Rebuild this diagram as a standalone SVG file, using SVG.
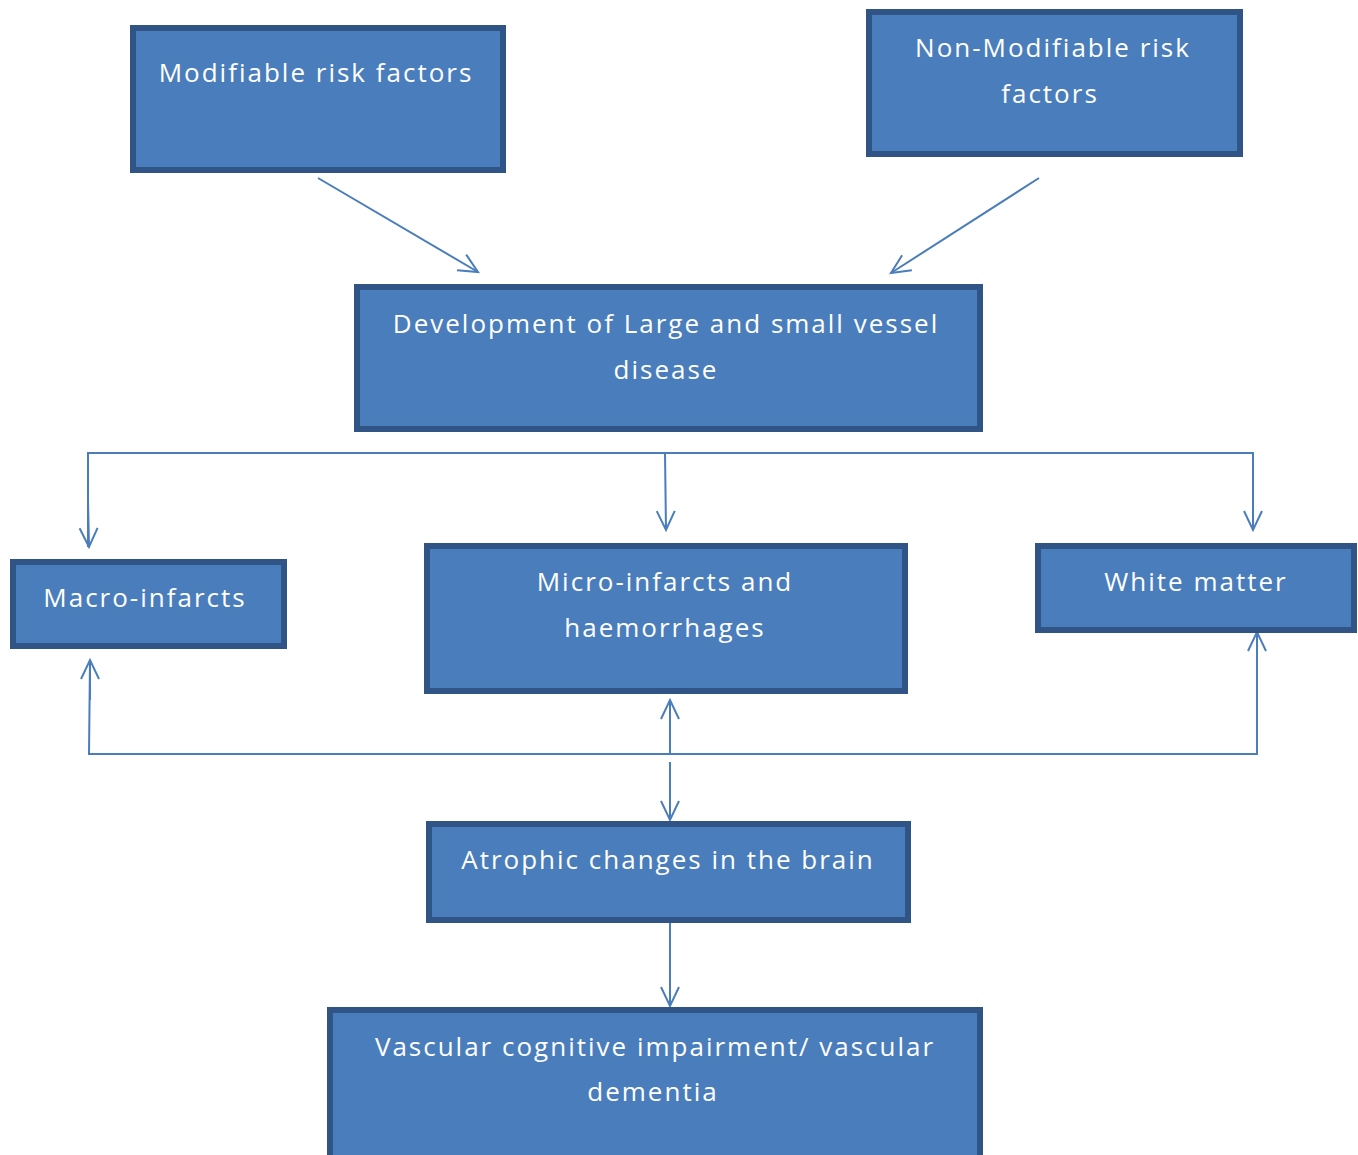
<svg xmlns="http://www.w3.org/2000/svg" width="1358" height="1155" viewBox="0 0 1358 1155">
<defs>
<style>
.box{fill:#4a7dbb;stroke:#2f5485;stroke-width:6}
.t{font-family:"Open Sans","Liberation Sans",sans-serif;font-size:26px;fill:#ffffff;text-anchor:middle;letter-spacing:2px}
.c{fill:none;stroke:#4a7dbb;stroke-width:2}
</style>
<marker id="ah" markerWidth="24" markerHeight="24" refX="20" refY="10" orient="auto" markerUnits="userSpaceOnUse" viewBox="0 0 24 20">
<path d="M1,1 L20,10 L1,19" fill="none" stroke="#4a7dbb" stroke-width="2"/>
</marker>
</defs>
<rect width="1358" height="1155" fill="#ffffff"/>
<g id="connectors">
<line class="c" x1="318" y1="178" x2="478" y2="272" marker-end="url(#ah)"/>
<line class="c" x1="1039" y1="178" x2="891" y2="273" marker-end="url(#ah)"/>
<polyline class="c" points="88,547 88,453 1253,453 1253,530"/>
<line class="c" x1="88" y1="500" x2="89" y2="547" marker-end="url(#ah)"/>
<line class="c" x1="1253" y1="500" x2="1253" y2="530" marker-end="url(#ah)"/>
<line class="c" x1="665" y1="453" x2="666" y2="530" marker-end="url(#ah)"/>
<polyline class="c" points="90,660 89,754 1257,754 1257,632"/>
<line class="c" x1="90" y1="700" x2="90" y2="660" marker-end="url(#ah)"/>
<line class="c" x1="1257" y1="680" x2="1257" y2="632" marker-end="url(#ah)"/>
<line class="c" x1="670" y1="754" x2="670" y2="700" marker-end="url(#ah)"/>
<line class="c" x1="670" y1="762" x2="670" y2="820" marker-end="url(#ah)"/>
<line class="c" x1="670" y1="922" x2="670" y2="1006" marker-end="url(#ah)"/>
</g>
<g id="n1"><rect class="box" x="133" y="28" width="370" height="142"/><text class="t" x="316" y="82">Modifiable risk factors</text></g>
<g id="n2"><rect class="box" x="869" y="12" width="371" height="142"/><text class="t" x="1053" y="57">Non-Modifiable risk</text><text class="t" x="1050" y="103">factors</text></g>
<g id="n3"><rect class="box" x="357" y="287" width="623" height="142"/><text class="t" x="666" y="333">Development of Large and small vessel</text><text class="t" x="666" y="379">disease</text></g>
<g id="n4"><rect class="box" x="13" y="562" width="271" height="84"/><text class="t" x="145" y="607">Macro-infarcts</text></g>
<g id="n5"><rect class="box" x="427" y="546" width="478" height="145"/><text class="t" x="665" y="591">Micro-infarcts and</text><text class="t" x="665" y="637">haemorrhages</text></g>
<g id="n6"><rect class="box" x="1038" y="546" width="316" height="84"/><text class="t" x="1196" y="591">White matter</text></g>
<g id="n7"><rect class="box" x="429" y="824" width="479" height="96"/><text class="t" x="668" y="869">Atrophic changes in the brain</text></g>
<g id="n8"><rect class="box" x="330" y="1010" width="650" height="150"/><text class="t" x="655" y="1056">Vascular cognitive impairment/ vascular</text><text class="t" x="653" y="1101">dementia</text></g>
</svg>
